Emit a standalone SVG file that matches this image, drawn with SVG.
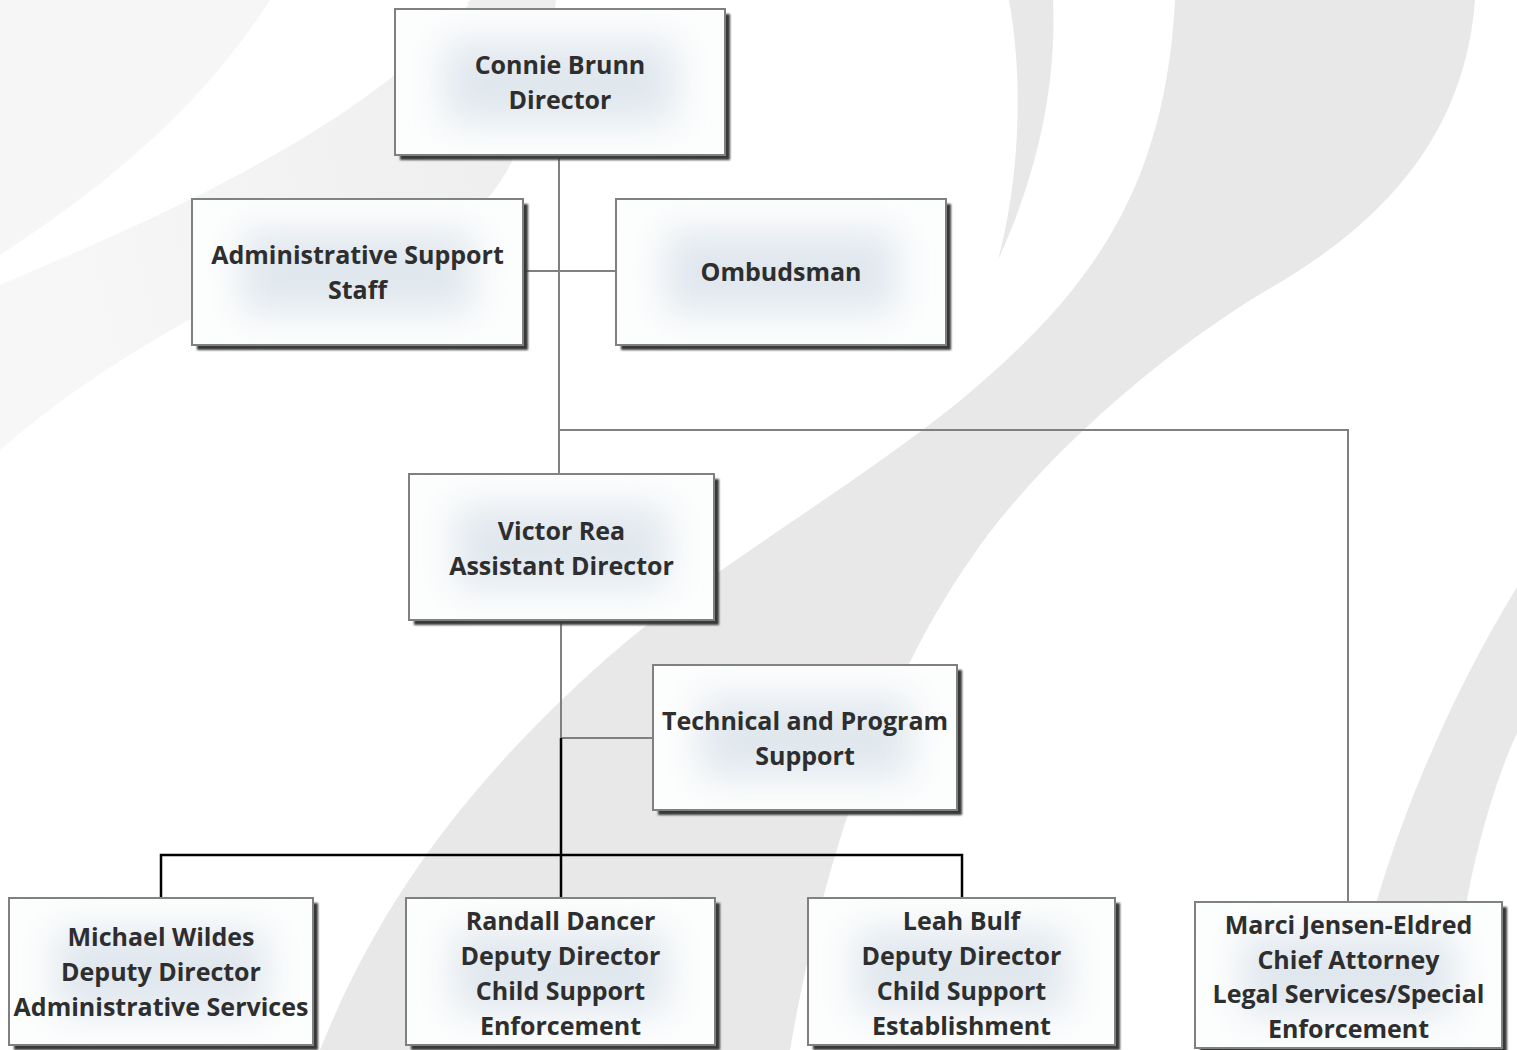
<svg xmlns="http://www.w3.org/2000/svg" width="1517" height="1050" viewBox="0 0 1517 1050">
  <style>
    .bg { fill: #e8e8e8; }
    .shd { fill: #383838; filter: url(#sblur); }
    .box { fill: #fcfdfd; stroke: #808080; stroke-width: 2; }
    .glow { fill: #e0e7ee; filter: url(#gblur); }
    .lbl { font-family: "Open Sans", "DejaVu Sans", sans-serif; font-weight: 700; font-size: 25px; fill: #2e2e2e; text-anchor: middle; }
    .cg { fill: none; stroke: #808080; stroke-width: 2; }
    .ck { fill: none; stroke: #000000; stroke-width: 2.5; }
  </style>
  <defs>
    <filter id="sblur" x="-10%" y="-10%" width="120%" height="120%">
      <feGaussianBlur stdDeviation="1.2"/>
    </filter>
    <filter id="gblur" x="-50%" y="-50%" width="200%" height="200%">
      <feGaussianBlur stdDeviation="18"/>
    </filter>
    <linearGradient id="tl" x1="0" y1="0.2" x2="1" y2="0">
      <stop offset="0" stop-color="#f7f7f7"/>
      <stop offset="1" stop-color="#ededed"/>
    </linearGradient>
  </defs>

  <rect x="0" y="0" width="1517" height="1050" fill="#ffffff"/>

  <g id="background">
    <path fill="#f6f6f6" d="M0,0 L270,0 C200,110 100,190 0,255 Z"/>
    <path fill="url(#tl)" d="M470,0 L556,0 C545,95 520,160 488,198 C350,235 150,320 0,450 L0,285 C150,220 350,140 470,0 Z"/>
    <path fill="none" stroke="#ffffff" stroke-width="2" d="M0,282 C150,215 350,140 468,4"/>
    <path class="bg" d="M1009,0 L1053,0 C1057,90 1035,180 998,260 C1022,170 1022,70 1009,0 Z"/>
    <path class="bg" d="M1175,0 L1475,0 C1465,130 1390,220 1267,290 C1150,360 1030,470 970,560 C900,660 830,820 790,1050 L320,1050 C380,900 470,780 606,659 C700,575 850,490 961,400 C1080,300 1165,200 1175,0 Z"/>
    <path class="bg" d="M1517,587 C1460,680 1410,790 1377,900 C1360,960 1350,1000 1345,1050 L1450,1050 C1455,990 1460,940 1467,900 C1480,830 1500,770 1517,733 Z"/>
  </g>

  <g id="connectors">
    <path class="cg" d="M559,155 V474"/>
    <path class="cg" d="M523,271 H616"/>
    <path class="cg" d="M559,430 H1348 V902"/>
    <path class="cg" d="M561,620 V738 H653"/>
    <path class="ck" d="M561,738 V898"/>
    <path class="ck" d="M161,898 V855 H962 V898"/>
  </g>

  <g id="connie-brunn">
    <rect class="shd" x="400" y="14" width="330" height="146"/>
    <rect class="box" x="395" y="9" width="330" height="146"/>
    <rect class="glow" x="445" y="42" width="230" height="80"/>
    <text class="lbl" x="560" y="74">Connie Brunn</text>
    <text class="lbl" x="560" y="109">Director</text>
  </g>

  <g id="admin-support-staff">
    <rect class="shd" x="197" y="204" width="331" height="146"/>
    <rect class="box" x="192" y="199" width="331" height="146"/>
    <rect class="glow" x="242" y="232" width="231" height="80"/>
    <text class="lbl" x="357.5" y="264">Administrative Support</text>
    <text class="lbl" x="357.5" y="299">Staff</text>
  </g>

  <g id="ombudsman">
    <rect class="shd" x="621" y="204" width="330" height="146"/>
    <rect class="box" x="616" y="199" width="330" height="146"/>
    <rect class="glow" x="666" y="232" width="230" height="80"/>
    <text class="lbl" x="781" y="281">Ombudsman</text>
  </g>

  <g id="victor-rea">
    <rect class="shd" x="414" y="479" width="305" height="146"/>
    <rect class="box" x="409" y="474" width="305" height="146"/>
    <rect class="glow" x="456" y="507" width="211" height="80"/>
    <text class="lbl" x="561.5" y="540">Victor Rea</text>
    <text class="lbl" x="561.5" y="575">Assistant Director</text>
  </g>

  <g id="technical-program-support">
    <rect class="shd" x="658" y="670" width="304" height="145"/>
    <rect class="box" x="653" y="665" width="304" height="145"/>
    <rect class="glow" x="700" y="698" width="210" height="79"/>
    <text class="lbl" x="805" y="730">Technical and Program</text>
    <text class="lbl" x="805" y="765">Support</text>
  </g>

  <g id="michael-wildes">
    <rect class="shd" x="14" y="903" width="304" height="147"/>
    <rect class="box" x="9" y="898" width="304" height="147"/>
    <rect class="glow" x="56" y="931" width="210" height="81"/>
    <text class="lbl" x="161" y="946">Michael Wildes</text>
    <text class="lbl" x="161" y="981">Deputy Director</text>
    <text class="lbl" x="161" y="1016">Administrative Services</text>
  </g>

  <g id="randall-dancer">
    <rect class="shd" x="411" y="903" width="309" height="147"/>
    <rect class="box" x="406" y="898" width="309" height="147"/>
    <rect class="glow" x="454" y="931" width="213" height="81"/>
    <text class="lbl" x="560.5" y="930">Randall Dancer</text>
    <text class="lbl" x="560.5" y="965">Deputy Director</text>
    <text class="lbl" x="560.5" y="1000">Child Support</text>
    <text class="lbl" x="560.5" y="1035">Enforcement</text>
  </g>

  <g id="leah-bulf">
    <rect class="shd" x="813" y="903" width="307" height="147"/>
    <rect class="box" x="808" y="898" width="307" height="147"/>
    <rect class="glow" x="856" y="931" width="211" height="81"/>
    <text class="lbl" x="961.5" y="930">Leah Bulf</text>
    <text class="lbl" x="961.5" y="965">Deputy Director</text>
    <text class="lbl" x="961.5" y="1000">Child Support</text>
    <text class="lbl" x="961.5" y="1035">Establishment</text>
  </g>

  <g id="marci-jensen-eldred">
    <rect class="shd" x="1200" y="907" width="307" height="146"/>
    <rect class="box" x="1195" y="902" width="307" height="146"/>
    <rect class="glow" x="1243" y="935" width="211" height="80"/>
    <text class="lbl" x="1348.5" y="934">Marci Jensen-Eldred</text>
    <text class="lbl" x="1348.5" y="969">Chief Attorney</text>
    <text class="lbl" x="1348.5" y="1003">Legal Services/Special</text>
    <text class="lbl" x="1348.5" y="1038">Enforcement</text>
  </g>
</svg>
